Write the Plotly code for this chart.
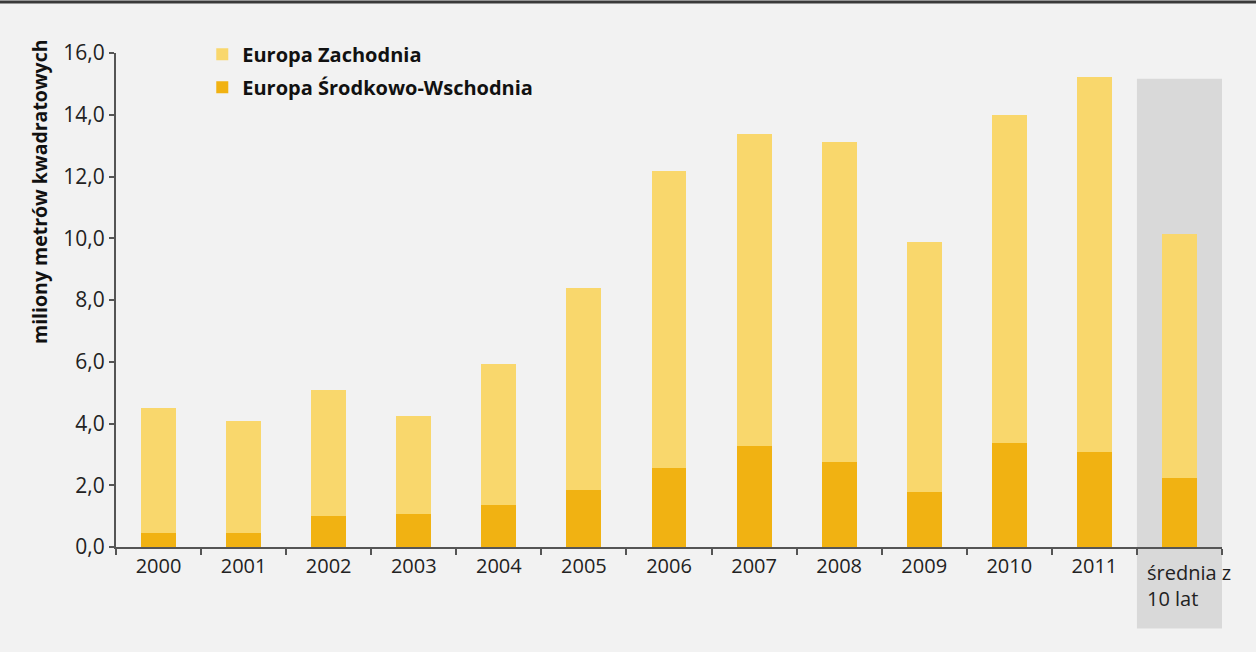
import plotly.graph_objects as go

# Years plus the ten-year average column
categories = ["2000", "2001", "2002", "2003", "2004", "2005", "2006",
              "2007", "2008", "2009", "2010", "2011", "średnia z 10 lat"]

# Million square metres, Central-Eastern Europe (bottom of each stack)
cee = [0.45, 0.45, 1.00, 1.06, 1.35, 1.84, 2.55, 3.27, 2.75, 1.77, 3.37, 3.08, 2.22]
# Million square metres, Western Europe (stacked above)
west = [4.05, 3.63, 4.08, 3.18, 4.57, 6.55, 9.64, 10.11, 10.37, 8.11, 10.63, 12.15, 7.92]

y_ticks = [0, 2, 4, 6, 8, 10, 12, 14, 16]

LIGHT = "#f9d76c"
DARK = "#f1b212"
BG = "#f2f2f2"
AXIS = "#555555"
FONT = "Open Sans, Noto Sans, sans-serif"

fig = go.Figure()
fig.add_trace(go.Bar(x=categories, y=cee, name="Europa Środkowo-Wschodnia",
                     legendgroup="cee", legendrank=2,
                     marker=dict(color=DARK, line=dict(width=0)), width=0.41))
fig.add_trace(go.Bar(x=categories, y=west, name="Europa Zachodnia",
                     legendgroup="west", legendrank=1,
                     marker=dict(color=LIGHT, line=dict(width=0)), width=0.41))

# Grey panel behind the average column
fig.add_shape(type="rect", xref="x", yref="paper",
              x0=11.5, x1=12.68, y0=-0.165, y1=0.948,
              fillcolor="#d9d9d9", line=dict(width=0), layer="below")

# Dark rule along the top edge
fig.add_shape(type="line", xref="paper", yref="paper",
              x0=-0.12, x1=1.04, y0=1.103, y1=1.103,
              line=dict(color="#3a3a3a", width=3))

# Left-aligned label under the average column
fig.add_annotation(x=categories[-1], y=0, xref="x", yref="y",
                   text="średnia z<br>10 lat", showarrow=False,
                   xanchor="left", yanchor="top", align="left",
                   xshift=-34, yshift=-10,
                   font=dict(family=FONT, size=20, color="#222222"))

# Y-axis title
fig.add_annotation(xref="paper", yref="paper", x=-0.069, y=0.72,
                   text="<b>miliony metrów kwadratowych</b>", textangle=-90,
                   showarrow=False, xanchor="center", yanchor="middle",
                   font=dict(family=FONT, size=19.5, color="#111111"))

tick_text = categories[:-1] + [""]

fig.update_layout(
    width=1256, height=652,
    barmode="stack",
    paper_bgcolor=BG, plot_bgcolor=BG,
    margin=dict(l=116, r=34, t=53, b=105),
    separators=", ",
    font=dict(family=FONT, size=20, color="#222222"),
    showlegend=True,
    legend=dict(x=0.078, y=1.037, xanchor="left", yanchor="top",
                traceorder="grouped", bgcolor="rgba(0,0,0,0)",
                font=dict(family=FONT, size=20, color="#111111", weight="bold"),
                itemwidth=30, tracegroupgap=4),
    xaxis=dict(type="category", range=[-0.5, 12.5],
               tickmode="array", tickvals=categories, ticktext=tick_text,
               tickson="boundaries", ticks="outside", ticklen=6,
               tickcolor=AXIS, tickwidth=2,
               showline=True, linecolor=AXIS, linewidth=2,
               showgrid=False, zeroline=False,
               tickfont=dict(family=FONT, size=20, color="#222222")),
    yaxis=dict(range=[0, 16], tickmode="array", tickvals=y_ticks,
               tickformat=".1f", ticks="outside", ticklen=5,
               tickcolor=AXIS, tickwidth=2,
               showline=True, linecolor=AXIS, linewidth=2,
               showgrid=False, zeroline=False,
               tickfont=dict(family=FONT, size=21, color="#222222")),
)

fig.write_html("out.html")
